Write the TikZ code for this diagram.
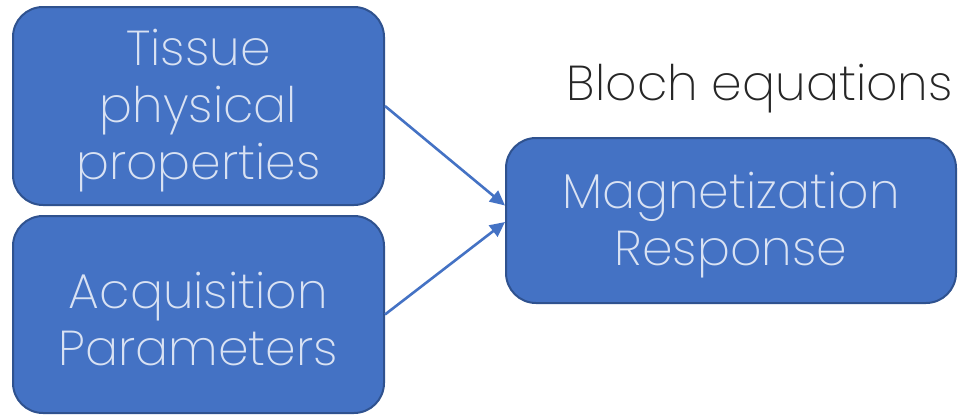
\documentclass[tikz,border=0pt]{standalone}
\usepackage{fontspec}
\setmainfont{Poppins}[UprightFont=* ExtraLight]
\usetikzlibrary{arrows.meta}
\definecolor{boxfill}{HTML}{4472C4}
\definecolor{boxline}{HTML}{2F528F}
\definecolor{boxtext}{HTML}{D9E2F3}
\definecolor{headtext}{HTML}{262626}
\tikzset{
  block/.style={draw=boxline, fill=boxfill, line width=2pt, rounded corners=30pt,
    inner sep=0pt},
  blocktext/.style={text=boxtext, align=center, inner sep=0pt, yshift=-5pt,
    font=\fontsize{49}{57}\selectfont},
  link/.style={draw=boxfill, line width=2.6pt,
    -{Triangle[length=15pt,width=14pt]}}
}
\begin{document}
\begin{tikzpicture}[x=1pt, y=-1pt]
  \useasboundingbox (0,0) rectangle (964,415);
  % boxes
  \node[block, minimum width=371pt, minimum height=198pt] (tissue) at (198.5,106) {};
  \node[block, minimum width=371pt, minimum height=197pt] (acq) at (198.5,314.5) {};
  \node[block, minimum width=450pt, minimum height=165pt] (mag) at (731,220.5) {};
  % box labels
  \node[blocktext] (tissuetxt) at (tissue.center) {Tissue\\physical\\properties};
  \node[blocktext] (acqtxt) at (acq.center) {Acquisition\\Parameters};
  \node[blocktext] (magtxt) at (mag.center) {Magnetization\\Response};
  % heading
  \node[anchor=base east, text=headtext, inner sep=0pt,
    font=\fontsize{49}{60}\selectfont] (bloch) at (953,100) {Bloch equations};
  % connectors
  \draw[link] (tissue.east) -- ([yshift=15pt]mag.west);
  \draw[link] (acq.east) -- ([yshift=-1.5pt]mag.west);
\end{tikzpicture}
\end{document}
